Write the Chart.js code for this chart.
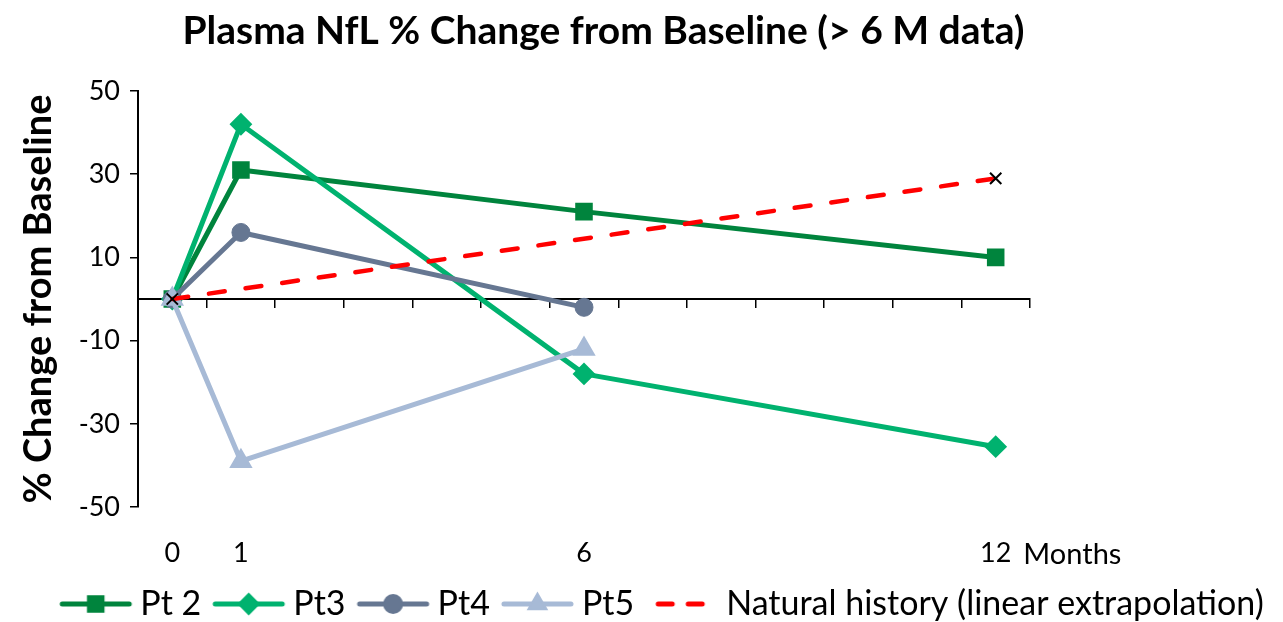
<!DOCTYPE html>
<html>
<head>
<meta charset="utf-8">
<script src="https://cdn.jsdelivr.net/npm/chart.js@4.4.0/dist/chart.umd.min.js"></script>
<style>
  html, body { margin: 0; padding: 0; background: #fff; }
  #wrap { width: 1283px; height: 622px; }
</style>
</head>
<body>
<div id="wrap"><canvas id="chart"></canvas></div>
<script>
// data
const months = [0, 1, 6, 12];
const xTickLabels = [0, 1, 6, 12];
const pt2 = [0, 31, 21, 10];
const pt3 = [0, 42, -18, -35.5];
const pt4 = [0, 16, -2];
const pt5 = [0, -39, -12];
const naturalMonths = [0, 12];
const natural = [0, 29];

const FONT = "Lato, 'Open Sans', sans-serif";
const colors = {pt2: "#00843D", pt3: "#00B26F", pt4: "#667792", pt5: "#A7BAD6", nat: "#FF0000"};

const toPoints = (xs, ys) => ys.map((y, i) => ({x: xs[i], y}));

// small line+marker pictures for the legend (drawn right of centre so the gaps come out right)
const makeSymbol = (color, style, radius, dashed) => {
    const c = document.createElement("canvas");
    c.width = 90;
    c.height = 26;
    const ctx = c.getContext("2d");
    ctx.strokeStyle = color;
    ctx.fillStyle = color;
    ctx.lineCap = "round";
    ctx.lineWidth = 5;
    ctx.beginPath();
    if (dashed) {
        ctx.moveTo(28, 13); ctx.lineTo(42, 13);
        ctx.moveTo(58, 13); ctx.lineTo(72, 13);
    } else {
        ctx.moveTo(18, 13); ctx.lineTo(85, 13);
    }
    ctx.stroke();
    if (style) {
        ctx.lineWidth = 2;
        Chart.helpers.drawPoint(ctx, {pointStyle: style, radius, borderWidth: 2}, 51.5, 13);
    }
    return c;
};

const datasets = [
    {label: "Pt 2", data: toPoints(months, pt2), borderColor: colors.pt2, backgroundColor: colors.pt2,
        pointStyle: "rect", pointRadius: 11, pointBorderWidth: 2, order: 4},
    {label: "Pt3", data: toPoints(months, pt3), borderColor: colors.pt3, backgroundColor: colors.pt3,
        pointStyle: "rectRot", pointRadius: 10, pointBorderWidth: 2, order: 3},
    {label: "Pt4", data: toPoints(months, pt4), borderColor: colors.pt4, backgroundColor: colors.pt4,
        pointStyle: "circle", pointRadius: 9, pointBorderWidth: 1, order: 2},
    {label: "Pt5", data: toPoints(months, pt5), borderColor: colors.pt5, backgroundColor: colors.pt5,
        pointStyle: "triangle", pointRadius: 10.5, pointBorderWidth: 3, order: 1},
    {label: "Natural history (linear extrapolation)", data: toPoints(naturalMonths, natural),
        borderColor: colors.nat, backgroundColor: "#000", borderDash: [16, 21], borderWidth: 4.5,
        pointStyle: "crossRot", pointRadius: 8, pointBorderColor: "#000", pointBorderWidth: 2, order: 0}
];
datasets.forEach(ds => {
    ds.borderWidth = ds.borderWidth || 5;
    ds.borderCapStyle = "round";
    ds.borderJoinStyle = "round";
    ds.tension = 0;
});

const symbols = [
    makeSymbol(colors.pt2, "rect", 11),
    makeSymbol(colors.pt3, "rectRot", 10),
    makeSymbol(colors.pt4, "circle", 9),
    makeSymbol(colors.pt5, "triangle", 10.5),
    makeSymbol(colors.nat, null, 0, true)
];

// nudges for the boxes Chart.js centres on the whole canvas
const titleShift = -44;
const legendShift = {x: 12, y: 9};

const nudge = {
    id: "nudge",
    afterLayout(chart) {
        chart.titleBlock.left += titleShift;
        chart.titleBlock.right += titleShift;
        chart.legend.left += legendShift.x;
        chart.legend.right += legendShift.x;
        chart.legend.top += legendShift.y;
        chart.legend.bottom += legendShift.y;
    }
};

const monthsLabel = {
    id: "monthsLabel",
    afterDraw(chart) {
        const sx = chart.scales.x;
        const ctx = chart.ctx;
        const tickFont = sx.options.ticks.font.size;
        const x = sx.getPixelForValue(12);
        ctx.save();
        ctx.font = tickFont + "px " + FONT;
        const w = ctx.measureText("12").width;
        const y = sx.top + sx.options.ticks.padding + tickFont * 1.2 / 2;
        ctx.font = "29px " + FONT;
        ctx.fillStyle = "#000";
        ctx.textBaseline = "middle";
        ctx.textAlign = "left";
        ctx.fillText("Months", x + w / 2 + 12, y + 1);
        ctx.restore();
    }
};

new Chart("chart", {
    type: "line",
    data: {datasets},
    options: {
        responsive: true,
        maintainAspectRatio: false,
        animation: false,
        layout: {padding: {left: 12, right: 0, top: 0, bottom: 0}},
        plugins: {
            title: {
                display: true,
                text: "Plasma NfL % Change from Baseline (> 6 M data)",
                color: "#000",
                font: {family: FONT, size: 39, weight: "bold"},
                padding: {top: 8, bottom: 36.2}
            },
            legend: {
                position: "bottom",
                labels: {
                    usePointStyle: true,
                    pointStyleWidth: 68,
                    padding: 7,
                    color: "#000",
                    font: {family: FONT, size: 34},
                    generateLabels: chart => chart.data.datasets.map((ds, i) => ({
                        text: ds.label,
                        pointStyle: symbols[i],
                        fillStyle: "transparent",
                        strokeStyle: "transparent",
                        lineWidth: 0,
                        hidden: false,
                        datasetIndex: i
                    }))
                }
            },
            tooltip: {enabled: false}
        },
        scales: {
            x: {
                type: "linear",
                min: -0.5,
                max: 12.5,
                afterBuildTicks: s => { s.ticks = xTickLabels.map(v => ({value: v})); },
                afterFit: s => { s.height = 64; },
                grid: {display: false, drawTicks: false},
                border: {display: false},
                ticks: {color: "#000", padding: 30, maxRotation: 0, autoSkip: false,
                    font: {family: FONT, size: 27}}
            },
            x0: {
                type: "linear",
                axis: "x",
                position: {y: 0},
                min: -0.5,
                max: 12.5,
                afterBuildTicks: s => {
                    s.ticks = [];
                    for (let v = s.min; v <= s.max; v++) s.ticks.push({value: v});
                },
                grid: {drawOnChartArea: false, color: "#000", lineWidth: 1.5, tickLength: 8},
                border: {color: "#000", width: 2},
                ticks: {display: false}
            },
            y: {
                type: "linear",
                min: -50,
                max: 50,
                afterFit: s => { s.width = 126; },
                ticks: {stepSize: 20, color: "#000", padding: 10, font: {family: FONT, size: 27}},
                grid: {drawOnChartArea: false, color: "#000", lineWidth: 1.5, tickLength: 8},
                border: {color: "#000", width: 2},
                title: {
                    display: true,
                    text: "% Change from Baseline",
                    color: "#000",
                    font: {family: FONT, size: 38, weight: "bold"}
                }
            },
            yR: {
                type: "linear",
                position: "right",
                afterFit: s => { s.width = 253; },
                grid: {display: false},
                border: {display: false},
                ticks: {display: false}
            }
        }
    },
    plugins: [nudge, monthsLabel]
});
</script>
</body>
</html>
